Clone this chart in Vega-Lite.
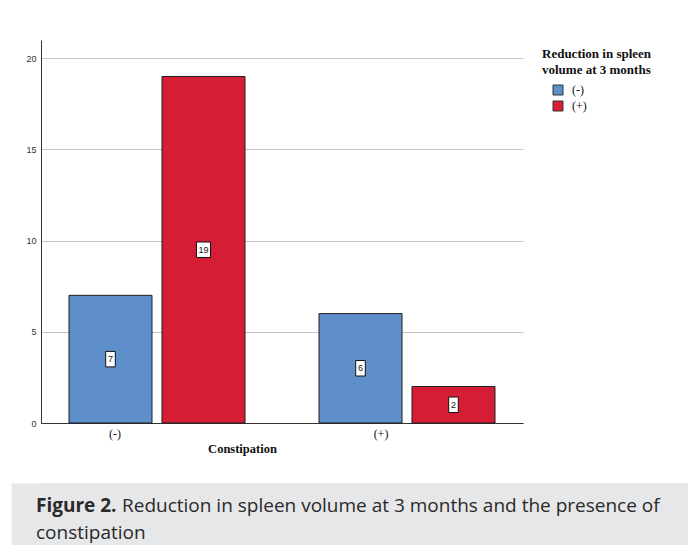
{
  "$schema": "https://vega.github.io/schema/vega-lite/v6.json",
  "background": "white",
  "padding": {"left": 11, "top": 40, "right": 0, "bottom": 0},
  "spacing": 28,
  "config": {"view": {"stroke": null}, "font": "Liberation Sans"},
  "resolve": {"scale": {"color": "independent", "x": "independent", "y": "independent"}, "legend": {"color": "independent"}},
  "vconcat": [
    {
      "width": 482,
      "height": 383,
      "data": {"values": [
        {"constipation": "(-)", "reduction": "(-)", "count": 7},
        {"constipation": "(-)", "reduction": "(+)", "count": 19},
        {"constipation": "(+)", "reduction": "(-)", "count": 6},
        {"constipation": "(+)", "reduction": "(+)", "count": 2}
      ]},
      "encoding": {
        "x": {
          "field": "constipation", "type": "nominal", "sort": ["(-)", "(+)"],
          "scale": {"paddingInner": 0.296, "paddingOuter": 0.112},
          "axis": {
            "title": "Constipation", "labelAngle": 0, "ticks": false, "tickSize": 0,
            "labelPadding": 5,
            "labelOffset": {"condition": {"test": "datum.value == '(-)'", "value": -42}, "value": -26},
            "labelFont": "Liberation Serif", "labelFontSize": 12, "labelColor": "#111",
            "titleFont": "Liberation Serif", "titleFontSize": 12.5, "titleFontWeight": "bold", "titleColor": "#111",
            "titlePadding": 3, "titleX": 201,
            "domainColor": "#333", "domainWidth": 1, "grid": false
          }
        },
        "xOffset": {"field": "reduction", "type": "nominal", "sort": ["(-)", "(+)"], "scale": {"paddingInner": 0.1075, "paddingOuter": 0}}
      },
      "layer": [
        {
          "mark": {"type": "bar", "stroke": "#1f1f1f", "strokeWidth": 1},
          "encoding": {
            "y": {
              "field": "count", "type": "quantitative",
              "scale": {"domain": [0, 21], "nice": false},
              "axis": {
                "title": null, "values": [0, 5, 10, 15, 20], "ticks": false, "tickSize": 0,
                "labelPadding": 5, "labelFontSize": 9, "labelColor": "#333", "minExtent": 30, "maxExtent": 30,
                "grid": true, "gridColor": "#c4c4c4", "gridWidth": 1,
                "domainColor": "#333", "domainWidth": 1
              }
            },
            "color": {
              "field": "reduction", "type": "nominal", "sort": ["(-)", "(+)"],
              "scale": {"domain": ["(-)", "(+)"], "range": ["#5f8fca", "#d51e36"]},
              "legend": {
                "title": ["Reduction in spleen", "volume at 3 months"],
                "orient": "none", "legendX": 501, "legendY": 8,
                "titleFont": "Liberation Serif", "titleFontSize": 13, "titleFontWeight": "bold", "titleColor": "#111",
                "titleLineHeight": 16, "titlePadding": 7, "titleLimit": 300,
                "labelFont": "Liberation Serif", "labelFontSize": 12, "labelColor": "#111",
                "symbolType": "square", "symbolSize": 100, "symbolStrokeColor": "#333", "symbolStrokeWidth": 1,
                "symbolOffset": 10, "rowPadding": 2, "labelOffset": 8
              }
            }
          }
        },
        {
          "mark": {"type": "point", "filled": true, "fill": "white", "stroke": "#111", "strokeWidth": 1, "opacity": 1},
          "encoding": {
            "y": {"field": "count", "type": "quantitative", "scale": {"domain": [0, 42], "nice": false}, "axis": null},
            "shape": {"condition": {"test": "datum.count >= 10", "value": "M-0.9,-1H0.9V1H-0.9Z"}, "value": "M-0.62,-1H0.62V1H-0.62Z"},
            "size": {"value": 240}
          }
        },
        {
          "mark": {"type": "text", "fontSize": 9, "color": "#111", "baseline": "middle", "align": "center"},
          "encoding": {
            "y": {"field": "count", "type": "quantitative", "scale": {"domain": [0, 42], "nice": false}, "axis": null},
            "text": {"field": "count", "type": "quantitative"}
          }
        }
      ],
      "resolve": {"scale": {"y": "independent"}}
    },
    {
      "width": 647,
      "height": 62,
      "view": {"fill": "#e6e7e9", "stroke": null},
      "data": {"values": [
        {"line": "1", "part": "figure", "text": "Figure 2."},
        {"line": "1", "part": "caption", "text": "Reduction in spleen volume at 3 months and the presence of"},
        {"line": "2", "part": "caption", "text": "constipation"}
      ]},
      "encoding": {
        "y": {
          "field": "line", "type": "ordinal",
          "scale": {"type": "point", "domain": ["1", "2"], "padding": 0.648, "align": 0.829},
          "axis": {"title": null, "labels": false, "ticks": false, "grid": false, "domain": true, "domainColor": "#e6e7e9", "domainWidth": 30, "domainCap": "butt", "offset": 15, "minExtent": 15, "maxExtent": 15}
        },
        "x": {"datum": 0, "type": "quantitative", "scale": {"domain": [0, 1]}, "axis": null},
        "text": {"field": "text", "type": "nominal"}
      },
      "layer": [
        {
          "transform": [{"filter": "datum.part == 'figure'"}],
          "mark": {"type": "text", "align": "left", "baseline": "alphabetic", "dx": -5, "font": "Open Sans", "fontSize": 19, "fontWeight": "bold", "color": "#2a2a2a"}
        },
        {
          "transform": [{"filter": "datum.part == 'caption' && datum.line == '1'"}],
          "mark": {"type": "text", "align": "left", "baseline": "alphabetic", "dx": 81, "font": "Open Sans", "fontSize": 19, "color": "#2a2a2a"}
        },
        {
          "transform": [{"filter": "datum.line == '2'"}],
          "mark": {"type": "text", "align": "left", "baseline": "alphabetic", "dx": -5, "font": "Open Sans", "fontSize": 19, "color": "#2a2a2a"}
        }
      ]
    }
  ]
}
